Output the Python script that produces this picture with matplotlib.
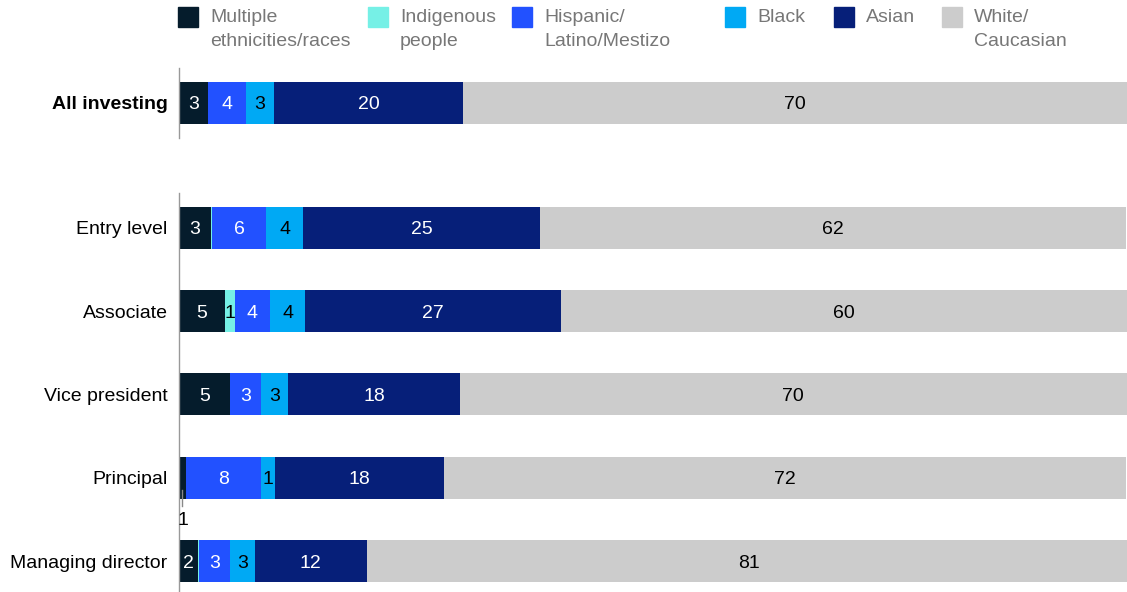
import matplotlib.pyplot as plt
from matplotlib.patches import Rectangle

plt.rcParams["font.family"] = ["Liberation Sans", "DejaVu Sans"]

rows = ["All investing", "Entry level", "Associate", "Vice president",
        "Principal", "Managing director"]
row_pos = [0, 1.5, 2.5, 3.5, 4.5, 5.5]

groups = ["Multiple\nethnicities/races", "Indigenous\npeople",
          "Hispanic/\nLatino/Mestizo", "Black", "Asian", "White/\nCaucasian"]
colors = ["#051c2c", "#76f0e6", "#2251ff", "#00a9f4", "#061f79", "#cccccc"]
text_colors = ["white", "black", "white", "black", "white", "black"]

# shares in %, one list per group (row order as above)
multiple = [3.05, 3.4, 4.85, 5.4, 0.7, 2.0]
indigenous = [0.0, 0.1, 1.05, 0.0, 0.0, 0.1]
hispanic = [4.0, 5.7, 3.7, 3.3, 8.0, 3.3]
black = [2.95, 3.9, 3.7, 2.85, 1.4, 2.6]
asian = [20.0, 25.0, 27.0, 18.1, 17.9, 11.8]
white = [70.0, 61.8, 59.7, 70.3, 71.9, 80.6]
labels_shown = [
    [3, None, 4, 3, 20, 70],
    [3, None, 6, 4, 25, 62],
    [5, 1, 4, 4, 27, 60],
    [5, None, 3, 3, 18, 70],
    [None, None, 8, 1, 18, 72],
    [2, None, 3, 3, 12, 81],
]
series = [multiple, indigenous, hispanic, black, asian, white]

fig = plt.figure(figsize=(11.27, 5.92), dpi=100)
ax = fig.add_axes([179 / 1127, 0, 948 / 1127, 532 / 592])

fs = 14
bar_h = 0.504
for i, (name, y) in enumerate(zip(rows, row_pos)):
    left = 0
    for j, s in enumerate(series):
        v = s[i]
        if v > 0:
            ax.barh(y, v, left=left, height=bar_h, color=colors[j], linewidth=0)
            lab = labels_shown[i][j]
            if lab is not None:
                ax.text(left + v / 2, y, str(lab), ha="center", va="center_baseline",
                        color=text_colors[j], fontsize=fs)
        left += v
    ax.text(-0.012, y, name, transform=ax.get_yaxis_transform(),
            ha="right", va="center_baseline", fontsize=fs, color="black",
            fontweight="bold" if i == 0 else "normal")

# callout for the Principal "Multiple" share
pi = rows.index("Principal")
ax.plot([multiple[pi] / 2, multiple[pi] / 2], [row_pos[pi] + 0.15, row_pos[pi] + 0.34],
        color="#888888", linewidth=1)
ax.text(multiple[pi] / 2 + 0.1, row_pos[pi] + 0.49, "1", ha="center",
        va="center_baseline", fontsize=fs, color="black")

# axis line segments
ax.plot([0, 0], [-0.42, 0.42], color="#999999", linewidth=1, clip_on=False)
ax.plot([0, 0], [1.08, 5.9], color="#999999", linewidth=1, clip_on=False)

ax.set_xlim(0, 100)
ax.set_ylim(5.872, -0.516)
ax.axis("off")

# legend
leg_x = [178, 368, 512, 725, 834, 942]
for j, g in enumerate(groups):
    x0 = leg_x[j] / 1127
    fig.patches.append(Rectangle((x0, 1 - 27 / 592), 20 / 1127, 20 / 592,
                                 transform=fig.transFigure, color=colors[j]))
    fig.text(x0 + 32 / 1127, 1 - 9 / 592, g, ha="left", va="top",
             fontsize=fs, color="#777777", linespacing=1.5)

fig.savefig("out.png", dpi=100)
